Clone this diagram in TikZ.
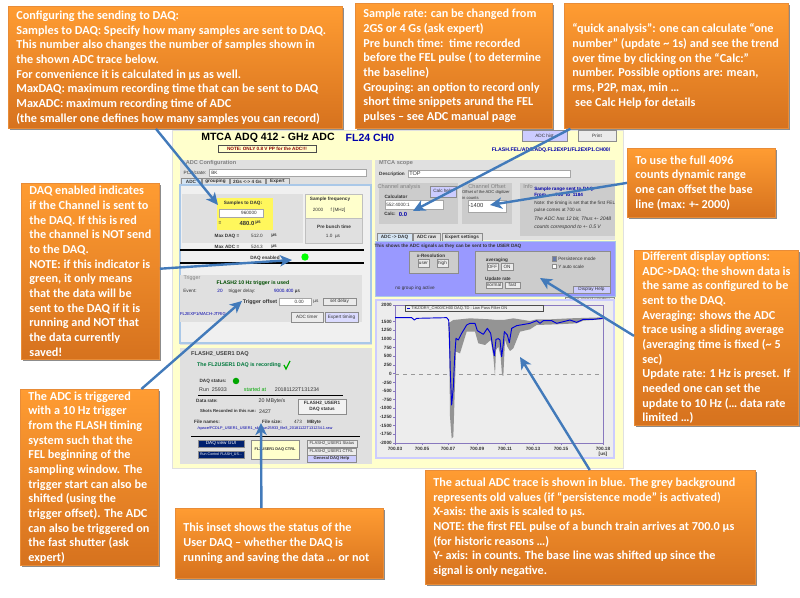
\documentclass[tikz,border=0pt]{standalone}
\usepackage{fontspec}
\setmainfont{Carlito}
\setsansfont{Liberation Sans}
\usetikzlibrary{arrows.meta,shadows}
\definecolor{calloutTop}{RGB}{255,156,50}
\definecolor{calloutMid}{RGB}{250,146,44}
\definecolor{calloutBot}{RGB}{214,114,30}
\definecolor{calloutEdge}{RGB}{232,140,56}
\definecolor{pointerBlue}{RGB}{66,122,186}
\definecolor{scrYellow}{RGB}{255,255,204}
\definecolor{panelGrey}{RGB}{224,224,224}
\definecolor{panelDark}{RGB}{204,204,204}
\definecolor{scrLavender}{RGB}{204,204,255}
\definecolor{scrViolet}{RGB}{153,153,255}
\definecolor{paneEdge}{RGB}{170,200,232}
\definecolor{plotEdge}{RGB}{136,120,190}
\definecolor{scrBlue}{RGB}{0,0,170}
\definecolor{scrNavy}{RGB}{0,32,110}
\definecolor{scrGreen}{RGB}{0,120,60}
\tikzset{
  callout/.style={draw=calloutEdge,line width=0.6pt,top color=calloutTop,middle color=calloutMid,bottom color=calloutBot,
    drop shadow={shadow xshift=0.9pt,shadow yshift=-1.2pt,opacity=0.45,fill=black},
    text=white,anchor=north west,align=flush left,inner xsep=6pt,inner ysep=0pt,
    font=\bfseries\fontsize{9.15}{11}\selectfont},
  boxsize/.style 2 args={minimum width=#1*0.75pt,text width=#1*0.75pt-12pt,minimum height=#2*0.75pt},
  pointer/.style={draw=pointerBlue,line width=1.8pt,-{Stealth[length=9pt,width=8.5pt,inset=2.5pt]}},
  scr/.style={font=\sffamily\fontsize{3.5}{4.2}\selectfont,inner sep=0pt,text=black!80,align=center},
  scrb/.style={scr,font=\sffamily\bfseries\fontsize{3.5}{4.2}\selectfont},
  scrhead/.style={scr,font=\sffamily\bfseries\fontsize{4.2}{5}\selectfont,text=black!50},
  btn/.style={draw=black!45,line width=0.3pt,fill=black!8},
  field/.style={draw=black!35,line width=0.3pt,fill=white},
  panel/.style={draw=none,fill=panelGrey},
  panelb/.style={draw=none,fill=panelDark}
}

\begin{document}
\begin{tikzpicture}[x=0.75pt,y=0.75pt,yscale=-1,xscale=1]
\useasboundingbox (0,0) rectangle (800,598);

%Shape: Screenshot background
\draw[draw=black!12,fill=scrYellow] (172,130) rectangle (623,468);

% Title row
\node[font=\sffamily\bfseries\fontsize{7.9}{9}\selectfont,inner sep=0pt] (mtcatitle) at (268,138) {MTCA ADQ 412 - GHz ADC};
\node[font=\sffamily\bfseries\fontsize{7.9}{9}\selectfont,inner sep=0pt,text=scrBlue] (chtitle) at (370,138) {FL24 CH0};
\draw[draw=black!70,line width=0.4pt,fill=scrYellow] (218,145) rectangle (316,152) node[midway,scrb,text=red!55!black] (ppnote) {NOTE: ONLY 0.8 V PP for the ADC!!!};
\draw[btn,fill=scrLavender] (522,130) rectangle (567,141) node[midway,scr] (histbtn) {ADC hist};
\draw[btn] (578,130) rectangle (616,141) node[midway,scr] (printbtn) {Print};
\node[scrb,text=scrBlue,font=\sffamily\bfseries\fontsize{3.9}{5}\selectfont] (pvname) at (551,150) {FLASH.FEL/ADC.ADQ.FL2EXP1/FL2EXP1.CH00/};

%Shape: ADC configuration panel
\draw[panel] (180,160) rectangle (372,345);
\node[scrhead] (cfghead) at (211,163) {ADC Configuration};
\node[scr] (crate) at (195,172.5) {PCB/crate:};
\draw[field] (209,169) rectangle (366,176);
\node[scr,anchor=west] (cratetxt) at (211,172.5) {BK};
\draw[btn,fill=paneEdge!50] (181,178) rectangle (201,185) node[midway,scrb] (tabadc) {ADC};
\draw[btn,fill=panelGrey] (202,178) rectangle (229,185) node[midway,scrb] (tabgroup) {grouping};
\draw[btn,fill=panelGrey] (230,178) rectangle (265,185) node[midway,scrb] (tabrate) {2Gs <-> 4 Gs};
\draw[btn,fill=panelGrey] (266,178) rectangle (289,185) node[midway,scrb] (tabexpert) {Expert};
\draw[draw=paneEdge,line width=0.8pt,fill=black!6] (180,185) rectangle (371,343);
\draw[panel] (182,194) rectangle (303,243);

% Samples to DAQ
\draw[draw=none,fill=yellow!55!scrYellow] (217,198) rectangle (273,230);
\node[scrb] (sampleslab) at (243,203) {Samples to DAQ:};
\draw[field] (219,209) rectangle (263,217);
\node[scr,anchor=east] (samplesval) at (257,213) {960000};
\node[scrb] (sampleseq) at (220,223) {=};
\node[scrb,font=\sffamily\bfseries\fontsize{4.4}{5}\selectfont] (samplesus) at (247,223) {480.0};
\node[scrb] (samplesunit) at (258,223) {µs};
\node[scrb] (maxdaq) at (227,236) {Max DAQ =};
\node[scr] (maxdaqval) at (257,236) {512.0};
\node[scrb] (maxdaqus) at (274,236) {µs};
\node[scrb] (maxadc) at (227,247) {Max ADC =};
\node[scr] (maxadcval) at (257,246.5) {524.3};
\node[scrb] (maxadcus) at (274,246.5) {µs};

% Frequency and pre bunch boxes
\draw[draw=black!25,fill=scrYellow] (305,194) rectangle (362,218);
\node[scrb] (freqlab) at (330,199) {Sample frequency};
\node[scr] (freqval) at (318,210) {2000};
\node[scr] (frequnit) at (338,210) {f [MHz]};
\draw[draw=black!25,fill=panelGrey] (305,218) rectangle (362,243);
\node[scrb] (prelab) at (334,227) {Pre bunch time};
\node[scr] (preval) at (333,236) {1.0 \ µs};

% DAQ enabled row
\draw[line width=0.8pt] (180,250) -- (364,250);
\draw[line width=0.8pt] (180,263) -- (364,263);
\node[scrb] (enabledlab) at (265,258) {DAQ enabled};
\node[circle,fill=green,minimum size=7.4*0.75pt,inner sep=0pt] (enabledled) at (305,257) {};

% Trigger
\draw[panel] (180,275) rectangle (362,322);
\node[scrhead,font=\sffamily\fontsize{4}{5}\selectfont] (trighead) at (192,278) {Trigger};
\node[scrb,text=black!70!green,font=\sffamily\bfseries\fontsize{3.9}{5}\selectfont] (trigused) at (253,283) {FLASH2 10 Hz trigger is used};
\node[scr] (eventlab) at (190,291) {Event:};
\node[scr,text=scrBlue] (eventval) at (220,291) {20};
\node[scr] (delaylab) at (242,291) {trigger delay:};
\node[scr,text=scrBlue] (delayval) at (287,291) {9000.400 \textcolor{black}{µs}};
\node[scrb,font=\sffamily\bfseries\fontsize{4}{5}\selectfont] (offsetlab) at (260,302) {Trigger offset};
\draw[field] (279,298) rectangle (311,305);
\node[scr,anchor=east] (offsetval) at (304,301.5) {0.00};
\node[scr] (offsetus) at (316,302) {µs};
\draw[btn] (323,298) rectangle (356,305) node[midway,scr] (setdelay) {set delay};
\node[scr,text=scrBlue,font=\sffamily\fontsize{3.2}{4}\selectfont] (trigaddr) at (203,314) {FL2EXP1/MACH-JTRIG};
\draw[btn] (291,312) rectangle (323,322) node[midway,scr] (adctimer) {ADC timer};
\draw[btn,fill=scrLavender!70] (325,312) rectangle (358,322) node[midway,scr] (exptimer) {Expert timing};

%Shape: User DAQ panel
\draw[panel] (180,348) rectangle (372,464);
\node[scrhead,text=black!75] (daqhead) at (220,354) {FLASH2\_USER1 DAQ};
\node[scrb,text=scrGreen,font=\sffamily\bfseries\fontsize{4}{5}\selectfont] (daqrec) at (239,365) {The FL2USER1 DAQ is recording};
\draw[draw=green!70!black,line width=1pt] (284,365) -- (286,369) -- (290,361);
\node[scrb] (statuslab) at (213,381) {DAQ status:};
\node[circle,fill=green!65!black,minimum size=6.5*0.75pt,inner sep=0pt] (statusled) at (236,381) {};
\node[scr,font=\sffamily\fontsize{4}{5}\selectfont] (runlab) at (213,390) {Run \ 25933};
\node[scr,text=green!65!black,font=\sffamily\fontsize{4}{5}\selectfont] (startlab) at (255,390) {started at};
\node[scr,font=\sffamily\fontsize{4}{5}\selectfont] (startval) at (297,390) {20181122T131234};
\draw[line width=0.3pt] (198,395) -- (343,395);
\node[scrb] (ratelab) at (207,401) {Data rate:};
\node[scr,font=\sffamily\fontsize{4}{5}\selectfont] (rateval) at (272,401) {20 MByte/s};
\node[scrb,font=\sffamily\bfseries\fontsize{3.2}{4}\selectfont] (shotslab) at (228,411) {Shots Recorded in this run:};
\node[scr,font=\sffamily\fontsize{4}{5}\selectfont] (shotsval) at (265,412) {2427};
\draw[btn,fill=black!5] (298,399) rectangle (346,414) node[midway,scrb] (daqstatbtn) {FLASH2\_USER1\\DAQ status};
\node[scrb] (nameslab) at (207,422) {File names:};
\node[scrb] (sizelab) at (272,422) {File size:};
\node[scr] (sizeval) at (298,422) {473};
\node[scrb] (sizeunit) at (314,422) {MByte};
\node[scr,text=scrBlue,font=\sffamily\fontsize{2.9}{4}\selectfont] (filepath) at (265,429) {/space/FCDLP\_USER1\_USER1\_slg\_run25933\_file3\_20181122T131234.1.raw};
\draw[line width=0.4pt] (191,436) -- (360,436);
\draw[btn,fill=scrNavy] (198,440) rectangle (244,447) node[midway,scr,text=white] (viewgui) {DAQ view GUI};
\draw[btn,fill=scrNavy] (198,451) rectangle (244,458) node[midway,scr,text=white,font=\sffamily\fontsize{2.7}{4}\selectfont] (runctrl) {Run Control FLASH\_US...};
\draw[btn,fill=scrYellow] (251,440) rectangle (299,459) node[midway,scrb,font=\sffamily\bfseries\fontsize{2.9}{4}\selectfont] (daqctrl) {FL2USER1 DAQ CTRL};
\draw[btn] (307,440) rectangle (357,447) node[midway,scr,font=\sffamily\fontsize{3.1}{4}\selectfont] (userstat) {FLASH2\_USER1 Status};
\draw[btn] (307,448) rectangle (356,455) node[midway,scr,font=\sffamily\fontsize{3.1}{4}\selectfont] (userctrl) {FLASH2\_USER1 CTRL};
\draw[btn,fill=scrLavender] (307,455) rectangle (356,462) node[midway,scrb,font=\sffamily\bfseries\fontsize{3.1}{4}\selectfont] (daqhelp) {General DAQ Help};

%Shape: MTCA scope panel
\draw[panel] (375,160) rectangle (615,240);
\node[scrhead] (scopehead) at (396,163) {MTCA scope};
\node[scrb] (desclab) at (392,174) {Description};
\draw[field] (408,170) rectangle (570,177);
\node[scr,anchor=west,font=\sffamily\fontsize{4.2}{5}\selectfont] (desctxt) at (409,173.5) {TOP};

\draw[panelb] (379,183) rectangle (458,224);
\node[scrhead,font=\sffamily\fontsize{4.2}{5}\selectfont] (analysishead) at (399,187) {Channel analysis};
\draw[btn,fill=scrLavender] (430,186) rectangle (456,197) node[midway,scr] (calchelp) {Calc help};
\node[scrb] (calclab) at (396,197) {Calculator};
\draw[field] (385,200) rectangle (443,209);
\node[scr,anchor=west] (calcfield) at (386,204.5) {552:4000:1};
\node[scrb] (calcout) at (390,214) {Calc:};
\node[scrb,text=scrBlue,font=\sffamily\bfseries\fontsize{4.4}{5}\selectfont] (calcval) at (403,214) {0.0};

\draw[panelb] (462,183) rectangle (512,224);
\node[scrhead,font=\sffamily\fontsize{4.2}{5}\selectfont] (offsethead) at (487,187) {Channel Offset};
\node[scr,align=left,font=\sffamily\fontsize{3.1}{4.4}\selectfont] (offsethint) at (486,195) {Offset of the ADC digitizer\\in counts};
\draw[field] (468,200) rectangle (506,212);
\node[scr,font=\sffamily\fontsize{4.4}{5}\selectfont] (offsetfield) at (476,205) {-1400};

\draw[panelb] (520,183) rectangle (615,236);
\node[scrhead,font=\sffamily\fontsize{4.2}{5}\selectfont] (infohead) at (528,187) {Info};
\node[scrb,text=scrBlue,anchor=west] (rangelab) at (534,189) {Sample range sent to DAQ:};
\node[scrb,text=scrBlue,anchor=west] (rangeval) at (534,195) {From \ ... \ 700 \ to \ 1184};
\node[scr,anchor=west,align=left] (infonote) at (534,206.5) {Note: the timing is set that the first FEL\\[1pt]pulse comes at 700 us};
\node[scr,anchor=west,align=left,font=\sffamily\itshape\fontsize{3.8}{5}\selectfont] (infobits) at (534,223) {The ADC has 12 bit, Thus +- 2048\\[1pt]counts correspond to +- 0.5 V};

% Display tabs
\draw[btn,fill=paneEdge!50] (377,233) rectangle (412,241) node[midway,scrb] (tabdaq) {ADC -> DAQ};
\draw[btn,fill=panelGrey] (413,233) rectangle (440,241) node[midway,scrb] (tabraw) {ADC raw};
\draw[btn,fill=panelGrey] (442,233) rectangle (482,241) node[midway,scrb] (tabset) {Expert settings};

%Shape: Violet display pane
\draw[draw=paneEdge,fill=scrViolet] (375,241) rectangle (615,296);
\node[scrb] (panetext) at (448,246) {This shows the ADC signals as they can be sent to the USER DAQ};
\draw[btn,fill=panelDark] (409,251) rectangle (458,273);
\node[scrb] (reslab) at (431,256) {x-Resolution};
\draw[btn] (418,259) rectangle (429,267) node[midway,scr] (resuser) {user};
\draw[btn] (437,259) rectangle (448,267) node[midway,scr] (reshigh) {high};
\node[scr] (nogroup) at (415,288) {no group ing active};
\draw[btn,fill=panelDark] (475,251) rectangle (610,293);
\node[scrb] (avglab) at (497,260) {averaging};
\draw[btn] (487,263) rectangle (498,270) node[midway,scr] (avgoff) {OFF};
\draw[btn] (501,263) rectangle (513,270) node[midway,scr] (avgon) {ON};
\node[scrb] (updlab) at (498,279) {Update rate};
\draw[btn] (486,282) rectangle (502,288) node[midway,scr] (updnorm) {normal};
\draw[btn] (505,282) rectangle (520,288) node[midway,scr] (updfast) {fast};
\draw[btn,fill=scrNavy!60] (552,256) rectangle (556,261);
\node[scr,anchor=west] (persist) at (558,258.5) {Persistence mode};
\draw[btn,fill=white] (552,264) rectangle (556,268);
\node[scr,anchor=west] (yauto) at (558,266.5) {Y auto scale};
\draw[btn,fill=scrLavender] (573,286) rectangle (610,293) node[midway,scr] (disphelp) {Display Help};
\draw[btn] (565,297) rectangle (614,303) node[midway,scr] (newwin) {open signal window};

%Shape: Plot
\draw[draw=scrLavender,line width=1pt,fill=black!7] (376,300) rectangle (614,458);
\draw[draw=plotEdge,line width=0.5pt] (395,305) rectangle (603,443);
\draw[draw=black!40,dashed,line width=0.25pt] (395,373.7) -- (603,373.7);
\draw[draw=plotEdge,line width=0.3pt] (393,305) -- (395,305) (393,321.7) -- (395,321.7) (393,330.3) -- (395,330.3) (393,339) -- (395,339) (393,347.6) -- (395,347.6) (393,356.2) -- (395,356.2) (393,365) -- (395,365) (393,373.7) -- (395,373.7) (393,382.4) -- (395,382.4) (393,391) -- (395,391) (393,399.7) -- (395,399.7) (393,408.3) -- (395,408.3) (393,417) -- (395,417) (393,425.7) -- (395,425.7) (393,434.3) -- (395,434.3) (393,443) -- (395,443);
\draw[draw=plotEdge,line width=0.3pt] (395,443) -- (395,445) (422,443) -- (422,445) (448,443) -- (448,445) (477,443) -- (477,445) (505,443) -- (505,445) (533,443) -- (533,445) (561,443) -- (561,445) (603,443) -- (603,445);
\draw[draw=black!70,line width=0.4pt,fill=black!7] (405,305) rectangle (543,311);
\draw[draw=blue!80!black,line width=0.7pt] (407,308) -- (410,308);
\node[scr,anchor=west,font=\sffamily\fontsize{3}{4}\selectfont] (legendtxt) at (411,308) {TIKZ/DRY\_CH00/CH00 DAQ.TD : Low Pass Filter ON};

%Shape: Persistence band and trace
\begin{scope}[shift={(370,290)},x=0.25pt,y=0.25pt]
\fill[black!42] (235,100) -- (250,90) -- (300,85) -- (360,88) -- (380,90) -- (400,90) -- (430,85) -- (480,93) -- (500,88) -- (540,88) -- (600,85) -- (698,82) -- (698,88) -- (640,92) -- (620,100) -- (560,103) -- (500,105) -- (480,118) -- (450,125) -- (430,175) -- (420,183) -- (412,170) -- (405,150) -- (400,258) -- (396,255) -- (392,200) -- (385,170) -- (378,180) -- (375,258) -- (370,200) -- (362,150) -- (345,165) -- (325,160) -- (315,125) -- (290,125) -- (270,190) -- (258,185) -- (250,440) -- (245,445) -- (240,380) -- (238,200) -- cycle;
\draw[draw=blue!85!black,line width=0.7pt,line join=round] (75,83) -- (125,83) -- (133,90) -- (140,85) -- (230,83) -- (236,90) -- (238,130) -- (241,250) -- (245,345) -- (250,290) -- (254,200) -- (258,145) -- (265,150) -- (275,130) -- (290,105) -- (300,100) -- (315,100) -- (322,122) -- (340,133) -- (352,115) -- (362,130) -- (368,170) -- (373,197) -- (378,148) -- (385,146) -- (390,150) -- (395,200) -- (400,160) -- (403,125) -- (412,135) -- (418,158) -- (425,115) -- (440,107) -- (480,100) -- (500,92) -- (510,100) -- (520,92) -- (545,92) -- (560,100) -- (580,95) -- (600,90) -- (620,97) -- (640,88) -- (670,88) -- (698,85);
\end{scope}

% Y tick labels
\node[scrb,anchor=east] (ylaba) at (392,305) {2000};
\node[scrb,anchor=east] (ylabb) at (392,321.7) {1500};
\node[scrb,anchor=east] (ylabc) at (392,330.3) {1250};
\node[scrb,anchor=east] (ylabd) at (392,339) {1000};
\node[scrb,anchor=east] (ylabe) at (392,347.6) {750};
\node[scrb,anchor=east] (ylabf) at (392,356.2) {500};
\node[scrb,anchor=east] (ylabg) at (392,365) {250};
\node[scrb,anchor=east] (ylabh) at (392,373.7) {0};
\node[scrb,anchor=east] (ylabi) at (392,382.4) {-250};
\node[scrb,anchor=east] (ylabj) at (392,391) {-500};
\node[scrb,anchor=east] (ylabk) at (392,399.7) {-750};
\node[scrb,anchor=east] (ylabl) at (392,408.3) {-1000};
\node[scrb,anchor=east] (ylabm) at (392,417) {-1250};
\node[scrb,anchor=east] (ylabn) at (392,425.7) {-1500};
\node[scrb,anchor=east] (ylabo) at (392,434.3) {-1750};
\node[scrb,anchor=east] (ylabp) at (392,443) {-2000};
% X tick labels
\node[scrb] (xlaba) at (395,449) {700.03};
\node[scrb] (xlabb) at (422,449) {700.05};
\node[scrb] (xlabc) at (448,449) {700.07};
\node[scrb] (xlabd) at (477,449) {700.09};
\node[scrb] (xlabe) at (505,449) {700.11};
\node[scrb] (xlabf) at (533,449) {700.13};
\node[scrb] (xlabg) at (561,449) {700.15};
\node[scrb] (xlabh) at (603,449) {700.18};
\node[scrb] (xunit) at (603,454) {[us]};

%Shape: Callouts
\node[callout,boxsize={334}{122}] (cfgbox) at (8,6) {Configuring the sending to DAQ:\\
Samples to DAQ: Specify how many samples are sent to DAQ.\\
This number also changes the number of samples shown in\\
the shown ADC trace below.\\
For convenience it is calculated in µs as well.\\
MaxDAQ: maximum recording time that can be sent to DAQ\\
MaxADC: maximum recording time of ADC\\
(the smaller one defines how many samples you can record)};
\node[callout,boxsize={197}{125}] (ratebox) at (355,3) {Sample rate: can be changed from\\
2GS or 4 Gs (ask expert)\\
Pre bunch time:\ \ time recorded\\
before the FEL pulse ( to determine\\
the baseline)\\
Grouping: an option to record only\\
short time snippets arund the FEL\\
pulses – see ADC manual page};
\node[callout,boxsize={224}{125}] (calcbox) at (564,3) {“quick analysis”: one can calculate “one\\
number” (update \textasciitilde{} 1s) and see the trend\\
over time by clicking on the “Calc:”\\
number. Possible options are: mean,\\
rms, P2P, max, min …\\
\ see Calc Help for details};
\node[callout,boxsize={148}{69}] (offsetbox) at (627,148) {To use the full 4096\\
counts dynamic range\\
one can offset the base\\
line (max: +- 2000)};
\node[callout,boxsize={164}{175}] (displaybox) at (634,250) {Different display options:\\
ADC->DAQ: the shown data is\\
the same as configured to be\\
sent to the DAQ.\\
Averaging: shows the ADC\\
trace using a sliding average\\
(averaging time is fixed (\textasciitilde{} 5\\
sec)\\
Update rate: 1 Hz is preset. If\\
needed one can set the\\
update to 10 Hz (… data rate\\
limited …)};
\node[callout,boxsize={138}{176}] (enabledbox) at (21,183) {DAQ enabled indicates\\
if the Channel is sent to\\
the DAQ. If this is red\\
the channel is NOT send\\
to the DAQ.\\
NOTE: if this indicator is\\
green, it only means\\
that the data will be\\
sent to the DAQ if it is\\
running and NOT that\\
the data currently\\
saved!};
\node[callout,boxsize={138}{176}] (trigbox) at (20,389) {The ADC is triggered\\
with a 10 Hz trigger\\
from the FLASH timing\\
system such that the\\
FEL beginning of the\\
sampling window. The\\
trigger start can also be\\
shifted (using the\\
trigger offset). The ADC\\
can also be triggered on\\
the fast shutter (ask\\
expert)};
\node[callout,boxsize={208}{70}] (insetbox) at (175,508) {This inset shows the status of the\\
User DAQ – whether the DAQ is\\
running and saving the data … or not};
\node[callout,boxsize={330}{114}] (tracebox) at (425,470) {The actual ADC trace is shown in blue. The grey background\\
represents old values (if “persistence mode” is activated)\\
X-axis: the axis is scaled to µs.\\
NOTE: the first FEL pulse of a bunch train arrives at 700.0 µs\\
(for historic reasons …)\\
Y- axis: in counts. The base line was shifted up since the\\
signal is only negative.};

% Pointer tips
\coordinate (samplesspot) at (218,205);
\coordinate (enabledspot) at (292,260);
\coordinate (trigspot) at (242,301);
\coordinate (shotsspot) at (261,423);
\coordinate (calcspot) at (413,211);
\coordinate (offsetspot) at (490,205);
\coordinate (displayspot) at (540,278);
\coordinate (tracespot) at (520,357);

%Straight Lines
\draw[pointer] ([xshift=-14.6pt]cfgbox.south) -- (samplesspot);
\draw[pointer] ([yshift=-2pt]enabledbox.east) -- (enabledspot);
\draw[pointer] ([xshift=39pt]trigbox.north) -- (trigspot);
\draw[pointer] ([xshift=-13.5pt]insetbox.north) -- (shotsspot);
\draw[pointer] ([xshift=-79.5pt]calcbox.south) -- (calcspot);
\draw[pointer] (offsetbox.west) -- (offsetspot);
\draw[pointer] ([yshift=-1.5pt]displaybox.west) -- (displayspot);
\draw[pointer] ([xshift=-0.5pt]tracebox.north) -- (tracespot);

\end{tikzpicture}
\end{document}
